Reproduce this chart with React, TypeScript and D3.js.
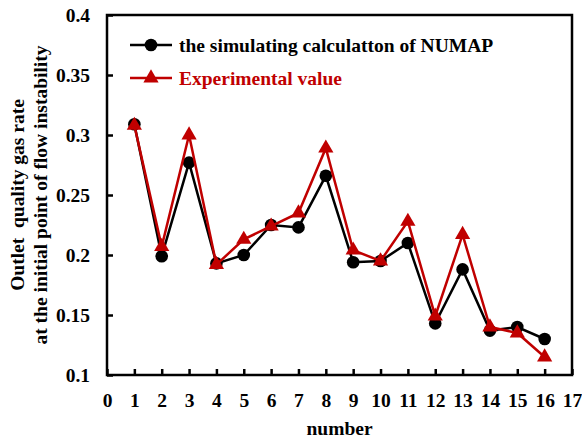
import { useEffect, useRef } from 'react';
import * as d3 from 'd3';

const numbers = [1, 2, 3, 4, 5, 6, 7, 8, 9, 10, 11, 12, 13, 14, 15, 16];
const simulated = [0.309, 0.199, 0.277, 0.193, 0.2, 0.225, 0.223, 0.266, 0.194, 0.195, 0.21, 0.143, 0.188, 0.137, 0.14, 0.13];
const experimental = [0.308, 0.207, 0.3, 0.192, 0.213, 0.224, 0.235, 0.289, 0.204, 0.195, 0.228, 0.149, 0.217, 0.14, 0.135, 0.115];
const xTicks = d3.range(0, 18);
const yTicks = [0.1, 0.15, 0.2, 0.25, 0.3, 0.35, 0.4];
const seriesNames = ['the simulating calculatton of NUMAP', 'Experimental value'];

const W = 582;
const H = 440;
const margin = { left: 107, right: 10, top: 15, bottom: 65 };
const RED = '#c00000';
const FONT = '"Liberation Serif", "Times New Roman", serif';
const FS = 19.5;

const App = () => {
    const svgRef = useRef<SVGSVGElement>(null);

    useEffect(() => {
        const svg = d3.select(svgRef.current);
        svg.selectAll('*').remove();

        const x = d3.scaleLinear().domain([0, 17]).range([margin.left, W - margin.right]);
        const y = d3.scaleLinear().domain([0.1, 0.4]).range([H - margin.bottom, margin.top]);

        // frame
        svg.append('rect')
            .attr('x', x(0)).attr('y', y(0.4))
            .attr('width', x(17) - x(0)).attr('height', y(0.1) - y(0.4))
            .attr('fill', 'none').attr('stroke', 'black').attr('stroke-width', 2.5);

        // x axis, inward ticks
        const xAxis = svg.append('g')
            .attr('transform', `translate(0,${y(0.1)})`)
            .call(d3.axisBottom(x).tickValues(xTicks).tickSize(-6).tickPadding(18).tickFormat(d3.format('d')));
        xAxis.select('.domain').remove();
        xAxis.selectAll('line').attr('stroke-width', 2.5);
        xAxis.selectAll('text').attr('font-family', FONT).attr('font-size', FS).attr('font-weight', 'bold').attr('fill', 'black');

        const yAxis = svg.append('g')
            .attr('transform', `translate(${x(0)},0)`)
            .call(d3.axisLeft(y).tickValues(yTicks).tickSize(-6).tickPadding(17).tickFormat(d => String(d)));
        yAxis.select('.domain').remove();
        yAxis.selectAll('line').attr('stroke-width', 2.5);
        yAxis.selectAll('text').attr('font-family', FONT).attr('font-size', FS).attr('font-weight', 'bold').attr('fill', 'black');

        const line = d3.line<number>().x((d, i) => x(numbers[i])).y(d => y(d));
        const tri = d3.symbol().type(d3.symbolTriangle).size(100);

        svg.append('path').datum(simulated).attr('d', line)
            .attr('fill', 'none').attr('stroke', 'black').attr('stroke-width', 2.5);
        svg.selectAll('circle.sim').data(simulated).join('circle')
            .attr('class', 'sim')
            .attr('cx', (d, i) => x(numbers[i])).attr('cy', d => y(d)).attr('r', 6.3)
            .attr('fill', 'black');

        svg.append('path').datum(experimental).attr('d', line)
            .attr('fill', 'none').attr('stroke', RED).attr('stroke-width', 2.5);
        svg.selectAll('path.exp').data(experimental).join('path')
            .attr('class', 'exp')
            .attr('d', tri)
            .attr('transform', (d, i) => `translate(${x(numbers[i])},${y(d)})`)
            .attr('fill', RED);

        // legend
        const legend = svg.append('g').attr('transform', 'translate(130,45)');
        const items = legend.selectAll('g').data(seriesNames).join('g')
            .attr('transform', (d, i) => `translate(0,${i * 33})`);
        items.append('line').attr('x1', 0).attr('x2', 42).attr('y1', 0).attr('y2', 0)
            .attr('stroke', (d, i) => i ? RED : 'black').attr('stroke-width', 2.5);
        items.each(function (d, i) {
            const g = d3.select(this);
            if (i === 0) g.append('circle').attr('cx', 21).attr('cy', 0).attr('r', 6.3).attr('fill', 'black');
            else g.append('path').attr('d', tri).attr('transform', 'translate(21,0)').attr('fill', RED);
        });
        items.append('text').attr('x', 49).attr('y', 7)
            .attr('font-family', FONT).attr('font-size', FS).attr('font-weight', 'bold')
            .attr('fill', (d, i) => i ? RED : 'black')
            .text(d => d);

        // axis titles
        svg.append('text')
            .attr('x', (x(0) + x(17)) / 2).attr('y', 435)
            .attr('text-anchor', 'middle')
            .attr('font-family', FONT).attr('font-size', FS).attr('font-weight', 'bold')
            .text('number');

        const yl = svg.append('text')
            .attr('transform', `translate(0,${(y(0.1) + y(0.4)) / 2}) rotate(-90)`)
            .attr('text-anchor', 'middle')
            .attr('font-family', FONT).attr('font-size', FS).attr('font-weight', 'bold')
            .attr('xml:space', 'preserve');
        yl.append('tspan').attr('x', 0).attr('y', 24).text('Outlet  quality gas rate');
        yl.append('tspan').attr('x', 0).attr('y', 47).text('at the initial point of flow instability');
    }, []);

    return (
        <svg ref={svgRef} width={W} height={H} style={{ display: 'block', position: 'absolute', left: 0, top: 0 }} />
    );
};

export default App;
